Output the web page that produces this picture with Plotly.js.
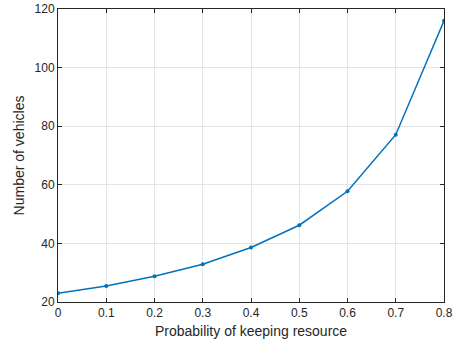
<!DOCTYPE html>
<html>
<head>
<meta charset="utf-8">
<script src="https://cdn.plot.ly/plotly-3.0.1.min.js"></script>
<style>html,body{margin:0;padding:0;background:#fff;}#chart{width:460px;height:348px;}</style>
</head>
<body>
<div id="chart"></div>
<script>
const probability = [0, 0.1, 0.2, 0.3, 0.4, 0.5, 0.6, 0.7, 0.8];
const vehicles = [23.0, 25.5, 28.8, 32.9, 38.6, 46.2, 57.8, 77.1, 116.0];
const xTicks = [0, 0.1, 0.2, 0.3, 0.4, 0.5, 0.6, 0.7, 0.8];
const xTickLabels = ['0', '0.1', '0.2', '0.3', '0.4', '0.5', '0.6', '0.7', '0.8'];
const yTicks = [20, 40, 60, 80, 100, 120];

const axisColor = '#262626';
const trace = {
  x: probability, y: vehicles, type: 'scatter', mode: 'lines+markers',
  line: {color: '#0072BD', width: 1.5},
  marker: {color: '#0072BD', size: 4, symbol: 'circle'},
  hoverinfo: 'skip'
};
const common = {
  showline: true, linecolor: axisColor, linewidth: 1, mirror: 'ticks',
  ticks: 'inside', ticklen: 4, tickcolor: axisColor, tickwidth: 1,
  showgrid: true, gridcolor: '#e5e5e5', gridwidth: 1, zeroline: false,
  tickfont: {family: 'Liberation Sans, Arial, sans-serif', size: 12, color: axisColor}
};
const layout = {
  width: 460, height: 348,
  margin: {l: 58, r: 16, t: 9, b: 46},
  paper_bgcolor: '#fff', plot_bgcolor: '#fff',
  showlegend: false,
  font: {family: 'Liberation Sans, Arial, sans-serif', size: 12, color: axisColor},
  xaxis: Object.assign({}, common, {
    range: [0, 0.8], tickvals: xTicks, ticktext: xTickLabels,
    title: {text: 'Probability of keeping resource', standoff: 6, font: {size: 14, color: axisColor}}
  }),
  yaxis: Object.assign({}, common, {
    range: [20, 120], tickvals: yTicks,
    title: {text: 'Number of vehicles', standoff: 6, font: {size: 14, color: axisColor}}
  })
};
Plotly.newPlot('chart', [trace], layout, {staticPlot: true, displayModeBar: false});
</script>
</body>
</html>
